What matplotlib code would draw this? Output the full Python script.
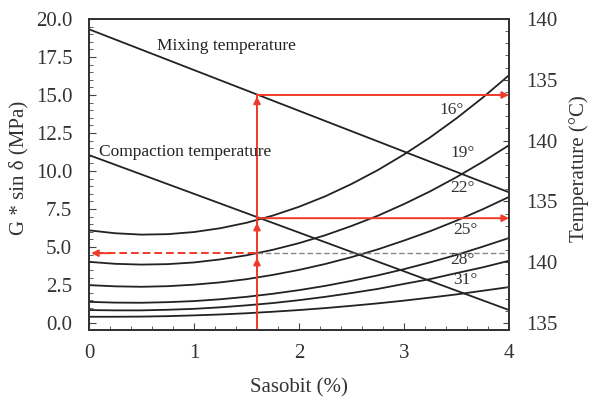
import matplotlib
matplotlib.use("Agg")
import matplotlib.pyplot as plt
from matplotlib.ticker import MultipleLocator

plt.rcParams['font.family'] = ['Liberation Serif', 'DejaVu Serif']

# Sasobit content (%)
sasobit = [0, 0.25, 0.5, 0.75, 1, 1.25, 1.5, 1.75, 2, 2.25, 2.5, 2.75, 3, 3.25, 3.5, 3.75, 4]

# G* sin(delta) (MPa) for each test temperature
g16 = [6.10, 5.91, 5.82, 5.85, 5.99, 6.24, 6.60, 7.07, 7.65, 8.34, 9.15, 10.06, 11.09, 12.22, 13.47, 14.83, 16.30]
g19 = [4.03, 3.90, 3.85, 3.88, 3.99, 4.19, 4.46, 4.82, 5.26, 5.78, 6.39, 7.06, 7.83, 8.67, 9.60, 10.61, 11.70]
g22 = [2.50, 2.42, 2.39, 2.43, 2.53, 2.68, 2.89, 3.17, 3.50, 3.89, 4.34, 4.85, 5.43, 6.05, 6.74, 7.49, 8.30]
g25 = [1.40, 1.35, 1.34, 1.38, 1.45, 1.57, 1.73, 1.93, 2.17, 2.45, 2.78, 3.14, 3.55, 4.00, 4.49, 5.03, 5.60]
g28 = [0.86, 0.84, 0.84, 0.88, 0.94, 1.04, 1.17, 1.32, 1.51, 1.73, 1.98, 2.25, 2.58, 2.90, 3.29, 3.67, 4.10]
g31 = [0.42, 0.42, 0.43, 0.46, 0.51, 0.57, 0.65, 0.75, 0.86, 0.99, 1.14, 1.30, 1.48, 1.68, 1.89, 2.13, 2.37]
temp_labels = ['16°', '19°', '22°', '25°', '28°', '31°']
label_pos = [(3.45, 14.0), (3.56, 11.2), (3.56, 8.9), (3.58, 6.1), (3.56, 4.15), (3.58, 2.85)]

# temperature lines (straight)
mix_x = [0, 4]
mix_y = [19.32, 8.6]
comp_x = [0, 4]
comp_y = [11.05, 0.86]

# reading construction
sas_sel = 1.6
g_mix = 15.0
g_comp = 6.9
g_sel = 4.6

right_ticks = [0, 4, 8, 12, 16, 20]
right_labels = ['135', '140', '135', '140', '135', '140']

fig = plt.figure(figsize=(5.9, 3.97), dpi=100)
ax = fig.add_axes([0.1508, 0.1688, 0.712, 0.7835])

for s in [g16, g19, g22, g25, g28, g31]:
    ax.plot(sasobit, s, color='#222222', lw=1.3)
ax.plot(mix_x, mix_y, color='#222222', lw=1.3)
ax.plot(comp_x, comp_y, color='#222222', lw=1.3)

for t, (tx, ty) in zip(temp_labels, label_pos):
    ax.text(tx, ty, t, fontsize=12.5, color='#333333', ha='center', va='center')

ax.text(1.31, 18.2, 'Mixing temperature', fontsize=12.5, color='#222222', ha='center', va='center')
ax.text(0.92, 11.27, 'Compaction temperature', fontsize=12.5, color='#222222', ha='center', va='center')

red = '#f03a2a'
ap = dict(arrowstyle='-|>', color=red, lw=1.4, mutation_scale=10, shrinkA=0, shrinkB=0)
# vertical red line
ax.plot([sas_sel, sas_sel], [-0.45, g_mix], color=red, lw=1.4)
ax.annotate('', xy=(sas_sel, g_mix - 0.1), xytext=(sas_sel, g_mix - 1.0), arrowprops=ap)
ax.annotate('', xy=(sas_sel, g_comp - 0.3), xytext=(sas_sel, g_comp - 1.2), arrowprops=ap)
ax.annotate('', xy=(sas_sel, g_sel - 0.3), xytext=(sas_sel, g_sel - 1.2), arrowprops=ap)
# horizontal red arrows to right
ax.annotate('', xy=(4.0, g_mix), xytext=(sas_sel, g_mix), arrowprops=ap)
ax.annotate('', xy=(4.0, g_comp), xytext=(sas_sel, g_comp), arrowprops=ap)
# dashed red arrow to left
ax.plot([0.07, sas_sel], [g_sel, g_sel], color=red, lw=1.4, ls=(0, (4, 2)))
ax.annotate('', xy=(0.02, g_sel), xytext=(0.2, g_sel), arrowprops=ap)
# grey dashed continuation
ax.plot([sas_sel, 4.0], [g_sel, g_sel], color='#888888', lw=1.0, ls=(0, (4, 2)))

ax.set_xlim(0, 4)
ax.set_ylim(-0.45, 20)
ax.set_xticks([0, 1, 2, 3, 4])
ax.xaxis.set_minor_locator(MultipleLocator(0.2))
ax.set_yticks([0, 2.5, 5, 7.5, 10, 12.5, 15, 17.5, 20])
ax.set_yticklabels(['0.0', '2.5', '5.0', '7.5', '10.0', '12.5', '15.0', '17.5', '20.0'])
ax.yaxis.set_minor_locator(MultipleLocator(0.5))
ax.tick_params(axis='both', which='both', direction='in', labelsize=15, colors='#444444', labelcolor='#333333')
ax.tick_params(axis='x', which='major', length=5, pad=10)
ax.tick_params(axis='x', which='minor', length=3)
ax.tick_params(axis='y', which='major', length=5, pad=12)
ax.tick_params(axis='y', which='minor', length=3)
for sp in ax.spines.values():
    sp.set_color('#333333')
    sp.set_linewidth(1.3)

ax2 = ax.twinx()
ax2.set_ylim(-0.45, 20)
ax2.set_yticks(right_ticks)
ax2.set_yticklabels(right_labels)
ax2.yaxis.set_minor_locator(MultipleLocator(0.8))
ax2.tick_params(axis='y', which='both', direction='in', labelsize=15, colors='#444444', labelcolor='#333333', pad=12)
ax2.tick_params(axis='y', which='major', length=4)
ax2.tick_params(axis='y', which='minor', length=3)
for sp in ax2.spines.values():
    sp.set_color('#333333')
    sp.set_linewidth(1.3)

ax.set_xlabel('Sasobit (%)', fontsize=15, color='#333333')
ax.xaxis.set_label_coords(0.5, -0.155)
ax.set_ylabel('G * sin δ (MPa)', fontsize=15, color='#333333')
ax.yaxis.set_label_coords(-0.145, 0.52)
ax2.set_ylabel('Temperature (°C)', fontsize=15, color='#333333')
ax2.yaxis.set_label_coords(1.143, 0.52)

fig.savefig('out.png', dpi=100)
